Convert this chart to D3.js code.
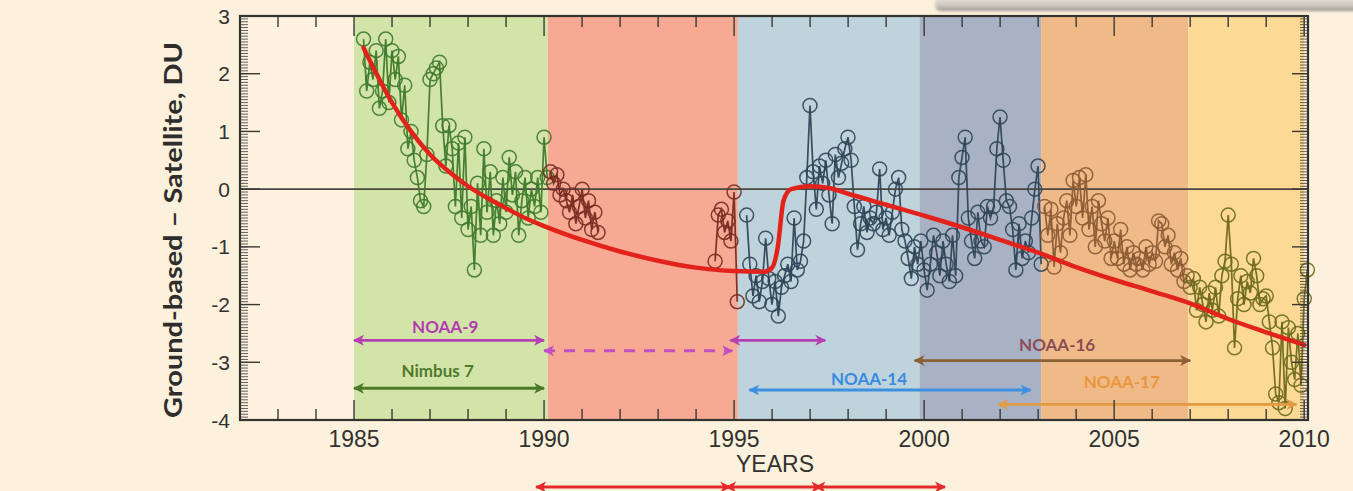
<!DOCTYPE html>
<html>
<head>
<meta charset="utf-8">
<script src="https://cdn.jsdelivr.net/npm/d3@7/dist/d3.min.js"></script>
<style>
  html, body { margin: 0; padding: 0; background: #fcf1dc; }
  svg { display: block; }
</style>
</head>
<body>
<svg id="chart" width="1353" height="491"></svg>
<script>
// ---------------- DATA ----------------
const xTicksMajor = [1985, 1990, 1995, 2000, 2005, 2010];
const yTicks = [3, 2, 1, 0, -1, -2, -3, -4];
const xLabel = "YEARS";
const yLabel = "Ground-based \u2013 Satellite, DU";

// satellite periods (background bands)
const bandNames  = ["Nimbus 7", "NOAA-9", "NOAA-11", "NOAA-14", "NOAA-16", "NOAA-17"];
const bandStarts = [1985.0, 1990.1, 1995.1, 1999.88, 2003.08, 2006.95];
const bandEnds   = [1990.1, 1995.1, 1999.88, 2003.08, 2006.95, 2010.0];
const bandColors = ["#d3e4a8", "#f8a993", "#bed3dc", "#a9b2c4", "#f0ba88", "#fcd994"];

// monthly differences (DU); each series: start year, monthly step
const nimbusStart = 1985.25;
const nimbusValues = [2.6,1.7,2.2,1.9,2.4,1.4,1.7,2.6,1.5,2.4,1.9,2.3,1.2,1.8,0.7,1.0,0.5,0.2,-0.2,-0.3,0.6,
  1.9,2.0,2.1,2.2,1.1,0.4,1.1,0.7,-0.3,0.8,-0.5,0.9,-0.7,-0.3,-1.4,0.1,-0.8,0.7,-0.4,0.3,-0.8,-0.2,-0.6,0.2,
  -0.4,0.55,-0.1,0.3,-0.8,-0.2,0.2,-0.5,0.0,-0.3,0.2,-0.4,0.9,0.2];
const noaa9aStart = 1990.17;
const noaa9aValues = [0.3,0.1,0.25,-0.1,0.0,-0.2,-0.4,-0.1,-0.6,-0.3,0.0,-0.5,-0.2,-0.7,-0.4,-0.75];
const noaa9bStart = 1994.5;
const noaa9bValues = [-1.25,-0.45,-0.35,-0.75,-0.55,-0.9,-0.05,-1.95];
const noaa11Start = 1995.33;
const noaa11Values = [-0.45,-1.3,-1.85,-1.5,-1.95,-1.6,-0.85,-1.55,-2.0,-1.6,-2.2,-1.7,-1.5,-1.3,-1.6,-0.5,
  -1.4,-1.25,-0.9,0.2,1.45,0.3,-0.35,0.4,0.1,0.5,-0.1,-0.6,0.6,0.2,0.45,0.7,0.9,0.5,-0.3,-1.05,-0.6,-0.3,
  -0.75,-0.5,-0.6,-0.4,0.35,-0.7,-0.5,-0.8,-0.4,0.0,0.2,-0.7,-0.9,-1.2,-1.55,-1.0,-1.3,-0.9,-1.4,-1.75,
  -1.3,-0.8,-1.1,-1.5,-0.9,-1.3,-1.6,-0.8,-1.5,0.2,0.55,0.9,-0.5,-0.9,-1.2,-0.4,-0.9,-1.0,-0.3,-0.5,-0.3,
  0.7,1.25,0.5,-0.2,-0.3,-0.7,-1.4,-0.6,-1.2,-0.9,-1.1,-0.5,0.0,0.4,-1.3];
const noaa16Start = 2003.17;
const noaa16Values = [-0.3,-0.8,-0.35,-1.35,-0.6,-1.1,-0.5,-0.2,-0.8,0.15,-0.3,0.2,-0.5,0.25,-0.7,-0.3,
  -1.0,-0.2,-0.6,-0.9,-0.5,-1.2,-0.9,-1.2,-0.7,-1.3,-1.0,-1.4,-1.1,-1.3,-1.2,-1.4,-1.0,-1.3,-1.1,-1.25,
  -0.55,-0.6,-1.0,-0.8,-1.3,-1.1,-1.4,-1.2,-1.6,-1.5];
const noaa17Start = 2007.0;
const noaa17Values = [-1.7,-1.55,-2.1,-1.7,-2.0,-2.3,-1.8,-2.1,-1.7,-2.2,-1.5,-1.25,-0.45,-1.3,-2.75,-1.9,
  -1.5,-2.0,-1.6,-1.8,-1.2,-1.5,-2.0,-1.9,-1.85,-2.3,-2.75,-3.55,-3.7,-2.3,-3.8,-2.4,-3.0,-3.3,-2.5,-3.4,
  -1.9,-1.4];

const seriesStarts = [nimbusStart, noaa9aStart, noaa9bStart, noaa11Start, noaa16Start, noaa17Start];
const seriesValues = [nimbusValues, noaa9aValues, noaa9bValues, noaa11Values, noaa16Values, noaa17Values];
const seriesColors = ["#3f7a2c", "#7a2b22", "#7a2b22", "#2f4658", "#8c5c34", "#6e6a1e"];

// smooth trend (red)
const trendYears  = [1985.25,1986,1986.5,1987,1987.5,1988,1988.5,1989,1989.5,1990,1991,1992,1993,1994,1995,
  1995.8,1996.0,1996.15,1996.3,1996.5,1997,1997.5,1998,1999,2000,2001,2002,2003,2004,2005,2006,2007,2008,2009,2010];
const trendValues = [2.45,1.5,1.0,0.6,0.3,0.05,-0.15,-0.33,-0.5,-0.64,-0.88,-1.08,-1.24,-1.36,-1.42,
  -1.43,-1.36,-1.0,-0.2,0.0,0.05,0.02,-0.08,-0.27,-0.46,-0.66,-0.88,-1.1,-1.35,-1.57,-1.77,-1.98,-2.25,-2.48,-2.7];

// instrument coverage arrows
const arrowLabels = ["NOAA-9", "", "", "Nimbus 7", "NOAA-14", "NOAA-16", "NOAA-17"];
const arrowFrom   = [1985.0, 1990.0, 1994.9, 1985.0, 1995.4, 1999.75, 2001.95];
const arrowTo     = [1990.0, 1994.95, 1997.4, 1990.0, 2002.8, 2007.0, 2009.8];
const arrowLevel  = [-2.62, -2.8, -2.62, -3.45, -3.48, -2.97, -3.73];
const arrowDashed = [false, true, false, false, false, false, false];
const arrowColors = ["#b540b2", "#c050c0", "#b540b2", "#4d7a2a", "#3d8fe0", "#8a6035", "#e39a45"];
const labelColors = ["#b23cb0", "", "", "#4f7b2a", "#3a8ae0", "#8c4d55", "#e8973e"];
const labelYear   = [1987.4, 0, 0, 1987.2, 1998.55, 2003.5, 2005.2];
const labelLevel  = [-2.5, 0, 0, -3.25, -3.4, -2.8, -3.45];
// red period arrows below the axis
const redFrom = [1990.0, 1995.0, 1997.35];
const redTo   = [1994.9, 1997.3, 2000.55];

// ---------------- DRAW ----------------
const svg = d3.select("#chart");
const W = 1353, H = 491;
const x = d3.scaleLinear().domain([1982, 2010.1]).range([240, 1308]);
const y = d3.scaleLinear().domain([-4, 3]).range([420, 16]);

const defs = svg.append("defs");
const grad = defs.append("linearGradient").attr("id", "shadowGrad").attr("x1", 0).attr("y1", 0).attr("x2", 0).attr("y2", 1);
grad.append("stop").attr("offset", "0%").attr("stop-color", "#ece8df");
grad.append("stop").attr("offset", "70%").attr("stop-color", "#c9c5bd");
grad.append("stop").attr("offset", "100%").attr("stop-color", "#8e8a84");
defs.append("filter").attr("id", "blur2").append("feGaussianBlur").attr("stdDeviation", 1.6);
defs.append("filter").attr("id", "blur1").append("feGaussianBlur").attr("stdDeviation", 0.6);

// background
svg.append("rect").attr("width", W).attr("height", H).attr("fill", "#fcf1dc");
// shadow strip at top-right
svg.append("rect").attr("x", 935).attr("y", -4).attr("width", 440).attr("height", 15)
  .attr("rx", 6).attr("fill", "url(#shadowGrad)").attr("filter", "url(#blur2)");

// plot area background
svg.append("rect").attr("x", x(1982)).attr("y", y(3)).attr("width", x(2010.1) - x(1982))
  .attr("height", y(-4) - y(3)).attr("fill", "#fcf2df");

// bands
svg.append("g").attr("filter", "url(#blur1)").selectAll("rect").data(bandNames).join("rect")
  .attr("x", (d, i) => x(bandStarts[i]))
  .attr("width", (d, i) => x(bandEnds[i]) - x(bandStarts[i]))
  .attr("y", y(3)).attr("height", y(-4) - y(3))
  .attr("fill", (d, i) => bandColors[i]);

// zero line
svg.append("line").attr("x1", x(1982)).attr("x2", x(2010.1)).attr("y1", y(0)).attr("y2", y(0))
  .attr("stroke", "#4a4640").attr("stroke-width", 1.6);

// data series
const line = d3.line().x(d => x(d[0])).y(d => y(d[1]));
seriesValues.forEach((vals, s) => {
  const pts = vals.map((v, i) => [seriesStarts[s] + i / 12, v]);
  const g = svg.append("g");
  g.append("path").attr("d", line(pts)).attr("fill", "none")
    .attr("stroke", seriesColors[s]).attr("stroke-width", 1.7).attr("opacity", 0.95);
  g.selectAll("circle").data(pts).join("circle")
    .attr("cx", d => x(d[0])).attr("cy", d => y(d[1])).attr("r", 7)
    .attr("fill", "none").attr("stroke", seriesColors[s]).attr("stroke-width", 1.5).attr("opacity", 0.9);
});

// trend
const trendPts = trendYears.map((t, i) => [t, trendValues[i]]);
svg.append("path").attr("d", d3.line().x(d => x(d[0])).y(d => y(d[1])).curve(d3.curveMonotoneX)(trendPts))
  .attr("fill", "none").attr("stroke", "#e2231c").attr("stroke-width", 4.5).attr("stroke-linecap", "round");

// arrow markers
function marker(id, color) {
  const m = defs.append("marker").attr("id", id).attr("viewBox", "0 -6 12 12")
    .attr("refX", 10).attr("refY", 0).attr("markerWidth", 12).attr("markerHeight", 12)
    .attr("markerUnits", "userSpaceOnUse").attr("orient", "auto-start-reverse");
  m.append("path").attr("d", "M0,-5.5 L11,0 L0,5.5 L3,0 Z").attr("fill", color);
}
arrowColors.forEach((c, i) => marker("arr" + i, c));
marker("arrRed", "#e52a2a");

const ag = svg.append("g");
arrowFrom.forEach((f, i) => {
  ag.append("line").attr("x1", x(f)).attr("x2", x(arrowTo[i]))
    .attr("y1", y(arrowLevel[i])).attr("y2", y(arrowLevel[i]))
    .attr("stroke", arrowColors[i]).attr("stroke-width", 2.8)
    .attr("stroke-dasharray", arrowDashed[i] ? "11,9" : null)
    .attr("marker-start", `url(#arr${i})`).attr("marker-end", `url(#arr${i})`);
  if (arrowLabels[i]) {
    ag.append("text").attr("x", x(labelYear[i])).attr("y", y(labelLevel[i]))
      .attr("text-anchor", "middle").attr("font-family", "Lato, 'Open Sans', sans-serif")
      .attr("font-weight", "bold").attr("font-size", 17).attr("fill", labelColors[i])
      .text(arrowLabels[i]);
  }
});
redFrom.forEach((f, i) => {
  ag.append("line").attr("x1", x(f) - 8).attr("x2", x(redTo[i]))
    .attr("y1", 487).attr("y2", 487)
    .attr("stroke", "#e52a2a").attr("stroke-width", 3)
    .attr("marker-start", "url(#arrRed)").attr("marker-end", "url(#arrRed)");
});

// axes ticks
const axg = svg.append("g").attr("stroke", "#3a3835").attr("stroke-width", 1.4);
const x0 = x(1982), x1 = x(2010.1), yT = y(3), yB = y(-4);
const yearTicks = d3.range(1983, 2011);
yearTicks.forEach(t => {
  const major = xTicksMajor.includes(t);
  const len = major ? 20 : 11;
  axg.append("line").attr("x1", x(t)).attr("x2", x(t)).attr("y1", yB).attr("y2", yB - len);
  axg.append("line").attr("x1", x(t)).attr("x2", x(t)).attr("y1", yT).attr("y2", yT + len);
});
const fine = d3.range(-4, 3.0001, 0.05);
fine.forEach(v => {
  axg.append("line").attr("x1", x0).attr("x2", x0 + 8).attr("y1", y(v)).attr("y2", y(v)).attr("stroke-width", 0.8);
  axg.append("line").attr("x1", x1).attr("x2", x1 - 8).attr("y1", y(v)).attr("y2", y(v)).attr("stroke-width", 0.8);
});
yTicks.forEach(v => {
  axg.append("line").attr("x1", x0).attr("x2", x0 + 20).attr("y1", y(v)).attr("y2", y(v));
  axg.append("line").attr("x1", x1).attr("x2", x1 - 16).attr("y1", y(v)).attr("y2", y(v));
});
// frame
svg.append("rect").attr("x", x0).attr("y", yT).attr("width", x1 - x0).attr("height", yB - yT)
  .attr("fill", "none").attr("stroke", "#34322f").attr("stroke-width", 2.2);

// tick labels
const tg = svg.append("g").attr("font-family", "'Liberation Sans', Arial, sans-serif").attr("fill", "#333130");
yTicks.forEach(v => {
  tg.append("text").attr("x", 230).attr("y", y(v)).attr("dy", "0.36em").attr("text-anchor", "end")
    .attr("font-size", 21).text(v);
});
xTicksMajor.forEach(t => {
  tg.append("text").attr("x", x(t)).attr("y", 447).attr("text-anchor", "middle")
    .attr("font-size", 23).text(t);
});
tg.append("text").attr("x", 775).attr("y", 472).attr("text-anchor", "middle")
  .attr("font-size", 23).text(xLabel);

// y label
svg.append("text").attr("transform", "translate(182,230) rotate(-90)")
  .attr("text-anchor", "middle").attr("font-family", "Lato, 'Open Sans', sans-serif")
  .attr("font-weight", "bold").attr("font-size", 25).attr("fill", "#2f2d2b")
  .attr("textLength", 376).attr("lengthAdjust", "spacingAndGlyphs")
  .text(yLabel);
</script>
</body>
</html>
